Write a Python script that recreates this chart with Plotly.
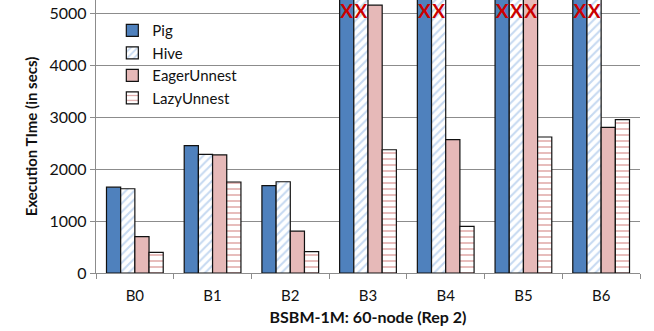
import plotly.graph_objects as go

categories = ["B0", "B1", "B2", "B3", "B4", "B5", "B6"]
series_names = ["Pig", "Hive", "EagerUnnest", "LazyUnnest"]
TIMEOUT = 6000  # failed runs: bar runs off the top of the axis
pig = [1650, 2450, 1680, TIMEOUT, TIMEOUT, TIMEOUT, TIMEOUT]
hive = [1620, 2280, 1755, TIMEOUT, TIMEOUT, TIMEOUT, TIMEOUT]
eager = [700, 2270, 805, 5150, 2565, TIMEOUT, 2800]
lazy = [395, 1750, 410, 2370, 895, 2615, 2950]
failed = {
    "Pig": [False, False, False, True, True, True, True],
    "Hive": [False, False, False, True, True, True, True],
    "EagerUnnest": [False, False, False, False, False, True, False],
    "LazyUnnest": [False] * 7,
}
X_MARK_LEVEL = 5000
y_ticks = [0, 1000, 2000, 3000, 4000, 5000]

values = {"Pig": pig, "Hive": hive, "EagerUnnest": eager, "LazyUnnest": lazy}
styles = {
    "Pig": dict(color="#4f81bd"),
    "Hive": dict(color="white", pattern=dict(shape="/", fgcolor="#8eb4e3", bgcolor="white", size=6, solidity=0.35)),
    "EagerUnnest": dict(color="#e6b9b8"),
    "LazyUnnest": dict(color="white", pattern=dict(shape="-", fgcolor="#c0504d", bgcolor="white", size=6, solidity=0.25)),
}

FONT = "Lato"
fig = go.Figure()
for i, name in enumerate(series_names):
    fig.add_trace(go.Bar(
        x=categories, y=values[name], name=name, offsetgroup=str(i),
        marker=dict(line=dict(color="#111111", width=1.2), **styles[name]),
        cliponaxis=True,
    ))
for i, name in enumerate(series_names):
    xs = [c for c, f in zip(categories, failed[name]) if f]
    fig.add_trace(go.Scatter(
        x=xs if xs else [categories[0]], y=[X_MARK_LEVEL] * len(xs) if xs else [None],
        mode="text", text=["X"] * max(len(xs), 1), offsetgroup=str(i),
        textfont=dict(family=FONT, size=19, color="#cc0000", weight="bold"),
        showlegend=False, hoverinfo="skip", cliponaxis=False,
    ))

fig.update_layout(
    width=654, height=331,
    margin=dict(l=96, r=14, t=0, b=58),
    paper_bgcolor="white", plot_bgcolor="white",
    barmode="group", bargap=0.27, bargroupgap=0,
    scattermode="group", scattergap=0.27,
    font=dict(family=FONT, size=14, color="#111111"),
    legend=dict(x=0.03, y=0.948, xanchor="left", yanchor="top",
                bgcolor="rgba(0,0,0,0)", font=dict(size=15), tracegroupgap=0,
                itemwidth=30),
    showlegend=True,
)
fig.update_xaxes(
    showline=True, linecolor="#8c8c8c", linewidth=1.3,
    ticks="outside", tickson="boundaries", ticklen=5, tickcolor="#8c8c8c",
    tickfont=dict(size=15), showgrid=False, ticklabelstandoff=9,
    title=dict(text="<b>BSBM-1M: 60-node (Rep 2)</b>", font=dict(size=16), standoff=8),
)
fig.update_yaxes(
    range=[0, 5250], tickvals=y_ticks,
    showline=True, linecolor="#8c8c8c", linewidth=1.3,
    ticks="outside", ticklen=5, tickcolor="#8c8c8c",
    showgrid=True, gridcolor="#8c8c8c", gridwidth=1,
    tickfont=dict(size=16), zeroline=False,
    title=dict(text="<b>Execution TIme (in secs)</b>", font=dict(size=15), standoff=8),
)
fig.write_html("out.html", post_script="document.body.style.margin='0';",
               config={"displayModeBar": False})
